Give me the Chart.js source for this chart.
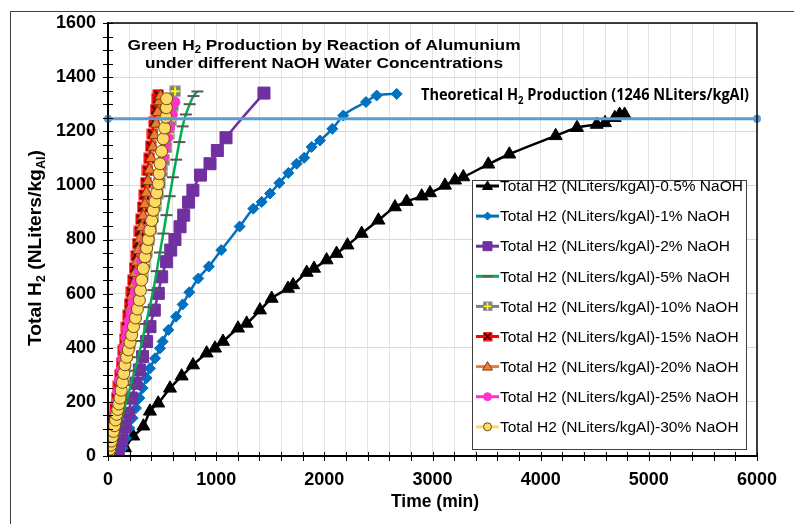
<!DOCTYPE html>
<html>
<head>
<meta charset="utf-8">
<script src="https://cdn.jsdelivr.net/npm/chart.js@4.4.1/dist/chart.umd.min.js"></script>
<style>
    html, body { margin: 0; padding: 0; background: #fff; }
    #wrap { width: 794px; height: 524px; }
</style>
</head>
<body>
<div id="wrap"><canvas id="h2Chart" width="794" height="524"></canvas></div>
<script>
// ---- data (time in min, total H2 in NLiters/kgAl) ----
const seriesLabels = [
    'Total H2 (NLiters/kgAl)-0.5% NaOH',
    'Total H2 (NLiters/kgAl)-1% NaOH',
    'Total H2 (NLiters/kgAl)-2% NaOH',
    'Total H2 (NLiters/kgAl)-5% NaOH',
    'Total H2 (NLiters/kgAl)-10% NaOH',
    'Total H2 (NLiters/kgAl)-15% NaOH',
    'Total H2 (NLiters/kgAl)-20% NaOH',
    'Total H2 (NLiters/kgAl)-25% NaOH',
    'Total H2 (NLiters/kgAl)-30% NaOH'
];

const naoh05Time = [0, 110, 157, 234, 327, 388, 464, 573, 681, 786, 912, 989, 1063, 1202, 1282, 1405, 1513, 1664, 1711, 1837, 1905, 2021, 2113, 2214, 2345, 2500, 2653, 2761, 2900, 2977, 3115, 3208, 3285, 3516, 3710, 4139, 4336, 4518, 4595, 4685, 4730, 4776];
const naoh05H2   = [0, 4, 30, 73, 110, 165, 195, 250, 295, 336, 380, 398, 423, 472, 490, 539, 582, 619, 632, 678, 693, 724, 748, 779, 822, 871, 920, 940, 960, 972, 1000, 1019, 1031, 1078, 1115, 1183, 1213, 1225, 1231, 1250, 1262, 1262];

const naoh1Time = [0, 92, 136, 166, 197, 228, 259, 290, 320, 357, 388, 435, 481, 505, 558, 629, 690, 752, 835, 932, 1047, 1217, 1343, 1421, 1498, 1584, 1667, 1744, 1814, 1883, 1960, 2074, 2175, 2385, 2484, 2669];
const naoh1H2   = [0, 4, 29, 66, 103, 140, 177, 214, 251, 288, 324, 361, 398, 423, 466, 515, 560, 605, 656, 700, 761, 848, 914, 939, 970, 1009, 1046, 1080, 1102, 1142, 1166, 1209, 1258, 1308, 1332, 1338];

const naoh2Time = [0, 60, 95, 126, 157, 188, 219, 259, 290, 320, 357, 388, 428, 465, 496, 542, 580, 619, 666, 700, 745, 785, 855, 943, 1011, 1091, 1442];
const naoh2H2   = [0, 5, 17, 60, 109, 158, 214, 269, 318, 367, 423, 478, 539, 601, 662, 718, 761, 800, 847, 890, 938, 982, 1038, 1080, 1129, 1176, 1341];

const naoh5Time = [0, 35, 70, 105, 140, 173, 210, 245, 280, 315, 350, 385, 419, 450, 480, 511, 540, 570, 600, 630, 660, 690, 720, 755, 790, 826];
const naoh5H2   = [0, 30, 72, 115, 160, 208, 262, 315, 365, 425, 488, 550, 613, 683, 752, 822, 890, 960, 1030, 1095, 1160, 1218, 1262, 1300, 1330, 1347];

const naoh10Time = [0, 20, 40, 60, 80, 100, 120, 140, 160, 180, 200, 220, 240, 260, 280, 300, 320, 340, 360, 380, 400, 420, 440, 460, 480, 500, 520, 540, 560, 580, 600, 620];
const naoh10H2   = [0, 35, 75, 118, 160, 202, 245, 288, 330, 372, 415, 458, 500, 542, 585, 628, 670, 712, 755, 798, 840, 882, 925, 968, 1010, 1052, 1095, 1140, 1190, 1240, 1295, 1348];

const naoh15Time = [0, 10, 20, 35, 50, 65, 80, 95, 110, 125, 140, 155, 170, 185, 200, 215, 230, 245, 260, 275, 290, 305, 320, 335, 350, 365, 380, 395, 410, 425, 440, 455, 465];
const naoh15H2   = [0, 25, 55, 95, 135, 175, 215, 258, 300, 345, 390, 432, 476, 520, 563, 607, 650, 695, 740, 785, 830, 875, 920, 965, 1010, 1055, 1100, 1145, 1190, 1235, 1280, 1320, 1335];

const naoh20Time = [0, 12, 25, 40, 55, 70, 85, 100, 115, 130, 145, 160, 175, 190, 205, 220, 235, 250, 265, 280, 295, 310, 325, 340, 355, 370, 385, 400, 415, 430, 445, 460, 475, 485];
const naoh20H2   = [0, 25, 55, 95, 135, 175, 215, 255, 295, 338, 380, 422, 464, 506, 548, 590, 632, 675, 717, 760, 802, 845, 887, 930, 972, 1015, 1057, 1100, 1142, 1185, 1227, 1270, 1310, 1330];

const naoh25Time = [0, 15, 30, 45, 60, 75, 90, 105, 120, 135, 150, 165, 180, 195, 210, 230, 250, 270, 290, 310, 330, 350, 370, 390, 410, 430, 450, 470, 490, 510, 530, 550, 570, 595, 619];
const naoh25H2   = [0, 38, 78, 118, 158, 198, 238, 278, 318, 358, 398, 438, 470, 500, 530, 568, 606, 644, 682, 720, 758, 796, 834, 872, 910, 948, 986, 1024, 1062, 1100, 1138, 1176, 1214, 1262, 1308];

const naoh30Time = [0, 8, 16, 24, 32, 40, 49, 60, 70, 80, 90, 100, 111, 122, 134, 146, 157, 172, 188, 204, 219, 236, 254, 272, 290, 300, 311, 326, 342, 357, 372, 388, 404, 419, 434, 450, 465, 473, 481, 496, 511, 524, 536, 540, 542];
const naoh30H2   = [0, 12, 25, 40, 55, 72, 91, 112, 133, 154, 172, 192, 214, 243, 272, 305, 337, 365, 392, 420, 447, 478, 510, 543, 576, 612, 650, 693, 736, 768, 800, 834, 870, 908, 940, 972, 1006, 1043, 1080, 1126, 1172, 1212, 1252, 1287, 1320];

const theoreticalTime = [0, 6000];
const theoreticalH2 = [1246, 1246];

const xTickStep = 200;
const yTickStep = 50;

// ---- styles ----
const FONT = "'Liberation Sans', Arial, sans-serif";

function markerCanvas(kind) {
    const c = document.createElement('canvas');
    c.width = 12; c.height = 12;
    const g = c.getContext('2d');
    if (kind === 'redX') {
        g.fillStyle = '#FF0000';
        g.fillRect(0.5, 0.5, 11, 11);
        g.strokeStyle = '#000';
        g.lineWidth = 1.5;
        g.beginPath();
        g.moveTo(2, 2); g.lineTo(10, 10);
        g.moveTo(10, 2); g.lineTo(2, 10);
        g.stroke();
    } else {
        g.fillStyle = '#7F7F7F';
        g.fillRect(0.5, 0.5, 11, 11);
        g.strokeStyle = '#FFFF00';
        g.lineWidth = 2;
        g.beginPath();
        g.moveTo(6, 1.5); g.lineTo(6, 10.5);
        g.moveTo(1.5, 6); g.lineTo(10.5, 6);
        g.stroke();
    }
    return c;
}
const redX = markerCanvas('redX');
const grayPlus = markerCanvas('grayPlus');

const styles = [
    { line: '#000000', shape: 'triangle', r: 7.5, fill: '#000000', edge: '#000000', bw: 1 },
    { line: '#0070C0', shape: 'rectRot', r: 5.5, fill: '#0070C0', edge: '#0070C0', bw: 1 },
    { line: '#7030A0', shape: 'rect', r: 8.5, fill: '#7030A0', edge: '#7030A0', bw: 1 },
    { line: '#00B050', shape: 'line', r: 6, fill: '#595959', edge: '#595959', bw: 2 },
    { line: '#7F7F7F', shape: grayPlus, r: 6, fill: '#7F7F7F', edge: '#7F7F7F', bw: 1 },
    { line: '#FF0000', shape: redX, r: 6, fill: '#FF0000', edge: '#000000', bw: 1 },
    { line: '#ED7D31', shape: 'triangle', r: 6.5, fill: '#ED7D31', edge: '#7F3F10', bw: 1 },
    { line: '#FF33CC', shape: 'circle', r: 5, fill: '#FF33CC', edge: '#FF33CC', bw: 1 },
    { line: '#FFD966', shape: 'circle', r: 6, fill: '#FFD966', edge: '#6B5000', bw: 1 }
];

const seriesTimes = [naoh05Time, naoh1Time, naoh2Time, naoh5Time, naoh10Time, naoh15Time, naoh20Time, naoh25Time, naoh30Time];
const seriesH2 = [naoh05H2, naoh1H2, naoh2H2, naoh5H2, naoh10H2, naoh15H2, naoh20H2, naoh25H2, naoh30H2];

function toPoints(ts, vs) {
    return ts.map((t, i) => ({ x: t, y: vs[i] }));
}

const datasets = seriesLabels.map((label, i) => {
    const s = styles[i];
    return {
        label: label,
        data: toPoints(seriesTimes[i], seriesH2[i]),
        showLine: true,
        borderColor: s.line,
        borderWidth: 2.5,
        pointStyle: s.shape,
        pointRadius: s.r,
        pointBackgroundColor: s.fill,
        pointBorderColor: s.edge,
        pointBorderWidth: s.bw,
        cubicInterpolationMode: 'monotone',
        order: 9 - i
    };
});

datasets.push({
    label: 'Theoretical',
    data: toPoints(theoreticalTime, theoreticalH2),
    showLine: true,
    borderColor: '#5B9BD5',
    borderWidth: 3,
    pointRadius: 2.5,
    pointBackgroundColor: '#5B9BD5',
    pointBorderColor: '#5B9BD5',
    clip: false,
    order: 0
});

// ---- helpers for text with subscripts ----
function drawRich(ctx, parts, x, y, size, family, targetW) {
    const subSize = size * 0.66;
    const widths = parts.map(p => {
        ctx.font = 'bold ' + (p.sub ? subSize : size) + 'px ' + family;
        return ctx.measureText(p.t).width;
    });
    const total = widths.reduce((a, b) => a + b, 0);
    const sx = targetW ? targetW / total : 1;
    ctx.save();
    ctx.translate(x - total * sx / 2, y);
    ctx.scale(sx, 1);
    ctx.textAlign = 'left';
    ctx.textBaseline = 'alphabetic';
    ctx.fillStyle = '#000';
    let cx = 0;
    parts.forEach((p, i) => {
        ctx.font = 'bold ' + (p.sub ? subSize : size) + 'px ' + family;
        ctx.fillText(p.t, cx, p.sub ? size * 0.22 : 0);
        cx += widths[i];
    });
    ctx.restore();
}

function drawLegendMarker(ctx, s, x, y) {
    if (s.shape instanceof HTMLCanvasElement) {
        ctx.drawImage(s.shape, x - 5, y - 5, 10, 10);
        return;
    }
    ctx.save();
    ctx.fillStyle = s.fill;
    ctx.strokeStyle = s.edge;
    ctx.lineWidth = s.bw;
    ctx.beginPath();
    if (s.shape === 'triangle') {
        ctx.moveTo(x, y - 5); ctx.lineTo(x + 5, y + 3.5); ctx.lineTo(x - 5, y + 3.5); ctx.closePath();
        ctx.fill(); ctx.stroke();
    } else if (s.shape === 'rectRot') {
        ctx.moveTo(x, y - 4); ctx.lineTo(x + 4, y); ctx.lineTo(x, y + 4); ctx.lineTo(x - 4, y); ctx.closePath();
        ctx.fill(); ctx.stroke();
    } else if (s.shape === 'rect') {
        ctx.rect(x - 4.5, y - 4.5, 9, 9);
        ctx.fill(); ctx.stroke();
    } else if (s.shape === 'line') {
        ctx.moveTo(x - 5, y); ctx.lineTo(x + 5, y);
        ctx.stroke();
    } else {
        ctx.arc(x, y, 4, 0, Math.PI * 2);
        ctx.fill(); ctx.stroke();
    }
    ctx.restore();
}

// ---- decoration plugin: frames, crossing ticks, titles, legend ----
const decor = {
    id: 'decor',
    beforeDraw(chart) {
        const ctx = chart.ctx;
        ctx.save();
        ctx.fillStyle = '#fff';
        ctx.fillRect(0, 0, chart.width, chart.height);
        ctx.strokeStyle = '#404040';
        ctx.lineWidth = 1;
        ctx.strokeRect(10.5, 11.5, 900, 700);
        ctx.restore();
    },
    afterDraw(chart) {
        const ctx = chart.ctx;
        const a = chart.chartArea;
        const xs = chart.scales.x;
        const ys = chart.scales.y;
        ctx.save();

        // plot border
        ctx.strokeStyle = '#000';
        ctx.lineWidth = 1.5;
        ctx.strokeRect(a.left, a.top, a.right - a.left, a.bottom - a.top);

        // crossing tick marks
        ctx.lineWidth = 1;
        ctx.beginPath();
        for (let v = ys.min; v <= ys.max; v += yTickStep) {
            const py = Math.round(ys.getPixelForValue(v)) + 0.5;
            ctx.moveTo(a.left - 5, py); ctx.lineTo(a.left + 5, py);
        }
        for (let v = xs.min; v <= xs.max; v += xTickStep) {
            const px = Math.round(xs.getPixelForValue(v)) + 0.5;
            ctx.moveTo(px, a.bottom - 4); ctx.lineTo(px, a.bottom + 5);
        }
        ctx.stroke();

        // chart title inside plot
        drawRich(ctx, [{ t: 'Green H' }, { t: '2', sub: true }, { t: ' Production by Reaction of Alumunium' }], 324, 49.5, 15.5, FONT, 393);
        drawRich(ctx, [{ t: 'under different NaOH Water Concentrations' }], 324, 67.5, 15.5, FONT, 358);

        // theoretical line label
        drawRich(ctx, [{ t: 'Theoretical H' }, { t: '2', sub: true }, { t: ' Production (1246 NLiters/kgAl)' }], 585, 100, 16, "'Open Sans', 'Liberation Sans', sans-serif", 328);

        // axis titles
        drawRich(ctx, [{ t: 'Time (min)' }], 435, 507, 17.5, FONT);
        ctx.save();
        ctx.translate(41, 248);
        ctx.rotate(-Math.PI / 2);
        drawRich(ctx, [{ t: 'Total H' }, { t: '2', sub: true }, { t: ' (NLiters/kg' }, { t: 'Al', sub: true }, { t: ')' }], 0, 0, 18, FONT, 196);
        ctx.restore();

        // legend box
        const lx = 472, ly = 180, lw = 274, lh = 269;
        ctx.fillStyle = '#fff';
        ctx.fillRect(lx, ly, lw, lh);
        ctx.strokeStyle = '#404040';
        ctx.lineWidth = 1;
        ctx.strokeRect(lx + 0.5, ly + 0.5, lw, lh);
        ctx.textBaseline = 'middle';
        ctx.textAlign = 'left';
        seriesLabels.forEach((label, i) => {
            const s = styles[i];
            const y = 186 + i * 30.1;
            ctx.strokeStyle = s.line;
            ctx.lineWidth = 3;
            ctx.beginPath();
            ctx.moveTo(476, y); ctx.lineTo(499, y);
            ctx.stroke();
            drawLegendMarker(ctx, s, 487.5, y);
            ctx.fillStyle = '#000';
            ctx.font = '15.5px ' + FONT;
            ctx.fillText(label, 500, y + 1);
        });
        ctx.restore();
    }
};

new Chart(document.getElementById('h2Chart'), {
    type: 'scatter',
    data: { datasets: datasets },
    plugins: [decor],
    options: {
        responsive: false,
        animation: false,
        layout: { padding: { left: 0, right: 37, top: 23, bottom: 0 } },
        plugins: {
            legend: { display: false },
            tooltip: { enabled: false },
            title: { display: false }
        },
        scales: {
            x: {
                type: 'linear',
                min: 0,
                max: 6000,
                afterFit: s => { s.height = 68; },
                ticks: {
                    stepSize: xTickStep,
                    autoSkip: false,
                    maxRotation: 0,
                    padding: 13,
                    color: '#000',
                    font: { family: FONT, size: 18, weight: 'bold' },
                    callback: v => (v % 1000 === 0 ? v : '')
                },
                grid: { color: '#E4E4E4', lineWidth: 1, drawTicks: false },
                border: { color: '#000', width: 2 }
            },
            y: {
                type: 'linear',
                min: 0,
                max: 1600,
                afterFit: s => { s.width = 108; },
                ticks: {
                    stepSize: yTickStep,
                    autoSkip: false,
                    padding: 12,
                    color: '#000',
                    font: { family: FONT, size: 18, weight: 'bold' },
                    callback: v => (v % 200 === 0 ? v : '')
                },
                grid: {
                    color: c => (c.tick && c.tick.value % 200 === 0 ? '#D9D9D9' : 'rgba(0,0,0,0)'),
                    lineWidth: 1,
                    drawTicks: false
                },
                border: { color: '#000', width: 2 }
            }
        }
    }
});
</script>
</body>
</html>
